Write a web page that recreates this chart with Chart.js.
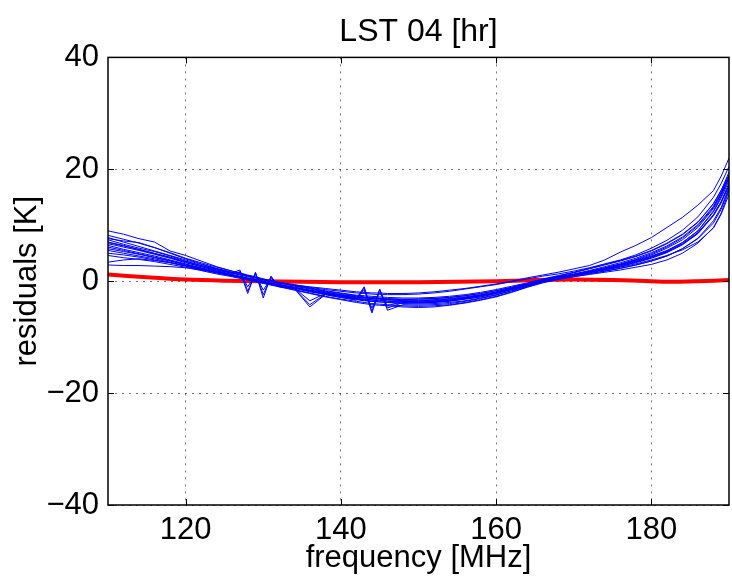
<!DOCTYPE html>
<html>
<head>
<meta charset="utf-8">
<style>
  html, body { margin: 0; padding: 0; background: #fff; }
</style>
<script src="https://cdn.jsdelivr.net/npm/chart.js@4.4.0/dist/chart.umd.min.js"></script>
</head>
<body>
<canvas id="chart" width="732" height="577"></canvas>
<script>
// frequency grid [MHz] shared by the blue residual curves
var freq = [110,112,114,116,118,120,122,124,126,127,128,129,130,131,132,134,136,138,140,142,143,144,145,146,148,150,152,154,156,158,160,162,164,166,168,170,172,174,176,178,180,182,184,186,188,189,190];

// residuals [K], one array per curve
var c1  = [9.0,8.4,7.6,7.0,5.4,4.6,3.6,2.6,1.8,1.4,1.0,0.7,0.3,0.0,-0.3,-0.8,-1.3,-1.8,-2.2,-2.6,-2.8,-2.9,-3.0,-3.1,-3.2,-3.2,-3.1,-2.9,-2.6,-2.2,-1.7,-1.1,-0.4,0.3,0.8,1.2,1.6,2.0,2.5,3.1,3.8,4.6,5.6,7.0,9.5,12.0,15.5];
var c2  = [7.8,7.0,6.2,5.4,4.6,3.8,3.0,2.2,1.5,1.2,0.9,0.6,0.3,0.0,-0.3,-0.7,-1.0,-1.3,-1.6,-1.9,-2.0,-2.1,-2.1,-2.2,-2.2,-2.1,-1.9,-1.6,-1.3,-0.9,-0.5,0.0,0.6,1.1,1.6,2.2,2.8,3.8,5.2,6.4,7.8,9.6,11.4,13.6,16.2,18.8,22.0];
var c3  = [8.2,7.5,6.8,6.0,5.1,4.1,3.3,2.5,1.8,1.5,1.1,0.8,0.4,0.1,-0.2,-0.7,-1.2,-1.7,-2.1,-2.5,-2.6,-2.7,-2.8,-2.9,-3.0,-3.0,-2.9,-2.7,-2.4,-2.0,-1.5,-0.9,-0.3,0.4,1.0,1.6,2.3,3.0,3.7,4.5,5.5,6.8,8.4,10.6,13.8,16.2,19.5];
var c4  = [7.4,6.6,5.9,5.3,4.5,3.6,2.8,2.1,1.5,2.0,-1.8,1.5,-2.4,0.8,-0.8,-1.3,-4.2,-2.3,-2.7,-3.1,-1.0,-5.4,-1.5,-4.8,-3.8,-3.9,-3.8,-3.6,-3.2,-2.8,-2.2,-1.5,-0.8,0.0,0.7,1.2,1.7,2.3,2.9,3.6,4.4,5.4,6.9,9.0,12.6,15.2,18.5];
var c5  = [7.0,6.4,5.6,4.9,4.2,3.4,2.6,2.0,1.4,1.6,-1.0,1.2,-1.6,0.5,-0.6,-1.2,-3.5,-2.2,-2.6,-3.0,-1.6,-4.8,-2.0,-4.4,-3.6,-3.7,-3.6,-3.4,-3.0,-2.6,-2.0,-1.3,-0.6,0.1,0.7,1.2,1.8,2.4,3.0,3.7,4.5,5.5,6.9,9.0,12.4,14.9,18.0];
var c6  = [6.7,6.1,5.5,4.8,4.1,3.3,2.6,1.9,1.2,0.9,0.6,0.3,0.0,-0.3,-0.6,-1.1,-1.7,-2.2,-2.7,-3.1,-3.3,-3.4,-3.5,-3.6,-3.7,-3.8,-3.7,-3.5,-3.2,-2.8,-2.2,-1.5,-0.7,0.0,0.6,1.1,1.6,2.1,2.7,3.4,4.2,5.2,6.6,8.6,11.8,14.2,17.6];
var c7  = [6.4,5.7,5.1,4.5,3.8,3.1,2.4,1.8,1.2,1.7,-2.2,1.6,-3.0,0.9,-1.0,-1.3,-4.6,-2.4,-2.9,-3.4,-1.2,-5.7,-1.4,-5.2,-4.2,-4.3,-4.2,-4.0,-3.6,-3.1,-2.5,-1.7,-0.9,-0.1,0.5,1.0,1.5,2.0,2.6,3.3,4.1,5.1,6.5,8.5,11.7,14.0,17.2];
var c8  = [6.1,5.5,4.9,4.3,3.7,3.0,2.3,1.7,1.1,0.8,0.5,0.2,-0.1,-0.4,-0.7,-1.2,-1.8,-2.3,-2.8,-3.2,-3.4,-3.6,-3.7,-3.8,-4.0,-4.1,-4.0,-3.8,-3.5,-3.0,-2.4,-1.7,-0.9,-0.1,0.5,1.0,1.4,1.8,2.3,2.9,3.6,4.5,5.8,7.7,10.8,13.2,16.8];
var c9  = [5.8,5.3,4.8,4.2,3.6,2.9,2.3,1.7,1.1,0.8,0.5,0.2,-0.1,-0.4,-0.7,-1.1,-1.6,-2.0,-2.4,-2.7,-2.9,-3.0,-3.1,-3.2,-3.3,-3.2,-3.1,-2.9,-2.6,-2.2,-1.7,-1.1,-0.4,0.3,0.9,1.5,2.2,2.9,3.6,4.4,5.4,6.7,8.3,10.5,13.9,16.3,19.0];
var c10 = [5.5,5.0,4.5,4.0,3.4,2.8,2.2,1.5,0.9,0.6,0.3,0.0,-0.3,-0.6,-0.9,-1.5,-2.1,-2.7,-3.2,-3.6,-3.8,-4.0,-4.1,-4.2,-4.4,-4.5,-4.4,-4.2,-3.8,-3.3,-2.7,-1.9,-1.0,-0.2,0.4,0.8,1.2,1.6,2.0,2.5,3.0,3.8,5.0,6.8,9.6,12.2,16.2];
var c11 = [5.0,4.7,4.3,3.8,3.3,2.7,2.1,1.5,1.0,0.7,0.4,0.1,-0.2,-0.5,-0.8,-1.3,-1.9,-2.4,-2.9,-3.3,-3.5,-3.6,-3.7,-3.8,-3.9,-3.9,-3.8,-3.5,-3.1,-2.6,-2.0,-1.3,-0.6,0.1,0.7,1.1,1.6,2.2,2.8,3.5,4.3,5.3,6.7,8.7,11.9,14.3,17.0];
var c12 = [3.4,3.8,4.0,3.7,3.3,2.7,2.1,1.6,1.0,0.7,0.4,0.1,-0.2,-0.5,-0.7,-1.2,-1.7,-2.2,-2.6,-3.0,-3.2,-3.3,-3.4,-3.5,-3.6,-3.6,-3.5,-3.3,-3.0,-2.6,-2.1,-1.4,-0.7,0.0,0.6,1.1,1.7,2.3,3.0,3.8,4.7,5.9,7.4,9.6,13.0,15.5,18.4];
var c13 = [2.9,2.8,2.8,2.7,2.6,2.4,2.0,1.5,1.0,0.7,0.5,0.2,-0.1,-0.4,-0.6,-1.1,-1.6,-2.1,-2.5,-2.9,-3.0,-3.1,-3.2,-3.3,-3.4,-3.4,-3.3,-3.1,-2.8,-2.4,-1.9,-1.2,-0.5,0.2,0.8,1.3,1.9,2.6,3.3,4.1,5.1,6.3,7.9,10.1,13.4,15.9,18.8];
var c14 = [7.6,7.2,6.9,6.0,5.0,4.0,3.1,2.3,1.6,1.3,1.0,0.7,0.4,0.1,-0.2,-0.6,-1.1,-1.5,-1.8,-2.1,-2.2,-2.3,-2.4,-2.4,-2.4,-2.3,-2.1,-1.8,-1.4,-1.0,-0.6,-0.1,0.4,0.9,1.3,1.8,2.4,3.1,3.8,4.7,5.9,7.3,9.1,11.5,15.0,17.5,20.5];
var c15 = [6.9,6.3,5.7,5.0,4.3,3.5,2.8,2.1,1.4,1.1,0.8,0.5,0.2,-0.1,-0.4,-0.9,-1.4,-1.9,-2.4,-2.8,-3.0,-3.1,-3.2,-3.3,-3.5,-3.5,-3.4,-3.2,-2.9,-2.5,-2.0,-1.4,-0.7,0.0,0.6,1.1,1.7,2.4,3.1,3.9,4.9,6.1,7.7,9.9,13.2,15.7,18.9];
var c16 = [4.6,4.2,3.9,3.5,3.0,2.5,1.9,1.3,0.8,0.5,0.2,-0.1,-0.4,-0.7,-1.0,-1.6,-2.2,-2.8,-3.3,-3.8,-4.0,-4.2,-4.3,-4.4,-4.6,-4.7,-4.6,-4.3,-3.9,-3.4,-2.8,-2.0,-1.1,-0.3,0.3,0.8,1.3,1.8,2.3,2.9,3.6,4.5,5.8,7.6,10.4,12.9,16.5];
var blueCurves = [c1, c2, c3, c4, c5, c6, c7, c8, c9, c10, c11, c12, c13, c14, c15, c16];

// red curve
var redFreq = [110,115,120,125,130,135,140,145,150,155,160,165,170,175,180,183,186,190];
var redRes  = [1.2,0.7,0.3,0.1,0.0,-0.1,-0.2,-0.2,-0.2,-0.1,0.0,0.2,0.3,0.2,0.0,-0.1,0.0,0.2];

var xTicks = [120, 140, 160, 180];
var yTicks = [-40, -20, 0, 20, 40];

var FONT = '"Liberation Sans", Arial, Helvetica, sans-serif';

function toPoints(xs, ys) {
  var pts = [];
  for (var i = 0; i < xs.length; i++) {
    pts.push({ x: xs[i], y: ys[i] });
  }
  return pts;
}

var datasets = [];
blueCurves.forEach(function (c) {
  datasets.push({
    data: toPoints(freq, c),
    borderColor: 'rgb(0,0,255)',
    borderWidth: 1,
    pointRadius: 0,
    tension: 0
  });
});
datasets.push({
  data: toPoints(redFreq, redRes),
  borderColor: 'rgb(255,0,0)',
  borderWidth: 4,
  pointRadius: 0,
  tension: 0.3
});

// axes box and inward tick marks, like the original figure
var boxPlugin = {
  id: 'box',
  afterDraw: function (chart) {
    var a = chart.chartArea, ctx = chart.ctx;
    var xs = chart.scales.x, ys = chart.scales.y;
    ctx.save();
    ctx.strokeStyle = '#000';
    ctx.lineWidth = 1;
    ctx.beginPath();
    xTicks.forEach(function (v) {
      var p = Math.round(xs.getPixelForValue(v)) + 0.5;
      ctx.moveTo(p, a.bottom); ctx.lineTo(p, a.bottom - 6);
      ctx.moveTo(p, a.top); ctx.lineTo(p, a.top + 6);
    });
    yTicks.forEach(function (v) {
      var p = Math.round(ys.getPixelForValue(v)) + 0.5;
      ctx.moveTo(a.left, p); ctx.lineTo(a.left + 6, p);
      ctx.moveTo(a.right, p); ctx.lineTo(a.right - 6, p);
    });
    ctx.stroke();
    ctx.lineWidth = 1.5;
    ctx.strokeRect(a.left, a.top, a.right - a.left, a.bottom - a.top);
    ctx.restore();
  }
};

var ctx = document.getElementById('chart').getContext('2d');
var chart = new Chart(ctx, {
  type: 'line',
  data: { datasets: datasets },
  options: {
    responsive: false,
    animation: false,
    devicePixelRatio: 1,
    layout: { padding: { left: 0, right: 3, top: 0, bottom: 0 } },
    plugins: {
      legend: { display: false },
      tooltip: { enabled: false },
      title: {
        display: true,
        fullSize: false,
        text: 'LST 04 [hr]',
        color: '#000',
        font: { family: FONT, size: 32, weight: 'normal' },
        padding: { top: 13, bottom: 6 }
      }
    },
    scales: {
      x: {
        type: 'linear',
        min: 110,
        max: 190,
        afterBuildTicks: function (scale) {
          scale.ticks = xTicks.map(function (v) { return { value: v }; });
        },
        afterFit: function (scale) { scale.height = 72; },
        grid: { color: 'rgba(0,0,0,0.55)', drawTicks: false },
        border: { display: false, dash: [2, 5] },
        ticks: {
          color: '#000',
          font: { family: FONT, size: 31 },
          padding: 7,
          maxRotation: 0
        },
        title: {
          display: true,
          text: 'frequency [MHz]',
          color: '#000',
          font: { family: FONT, size: 31 },
          padding: { top: 0, bottom: 0 }
        }
      },
      y: {
        type: 'linear',
        min: -40,
        max: 40,
        afterBuildTicks: function (scale) {
          scale.ticks = yTicks.map(function (v) { return { value: v }; });
        },
        afterFit: function (scale) { scale.width = 108; },
        grid: { color: 'rgba(0,0,0,0.55)', drawTicks: false },
        border: { display: false, dash: [2, 5] },
        ticks: {
          color: '#000',
          font: { family: FONT, size: 31 },
          padding: 9,
          callback: function (v) { return v < 0 ? '\u2212' + Math.abs(v) : String(v); }
        },
        title: {
          display: true,
          text: 'residuals [K]',
          color: '#000',
          font: { family: FONT, size: 31 },
          padding: { top: 9, bottom: 0 }
        }
      }
    }
  },
  plugins: [boxPlugin]
});
</script>
</body>
</html>
